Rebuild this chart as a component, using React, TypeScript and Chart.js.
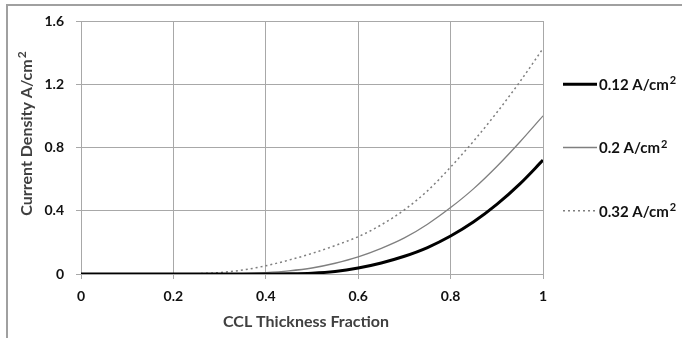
import React, { useEffect, useRef } from "react";
import { Chart, registerables } from "chart.js";

Chart.register(...registerables);

const xValues = [0, 0.05, 0.1, 0.15, 0.2, 0.25, 0.3, 0.35, 0.4, 0.45, 0.5, 0.55, 0.6, 0.65, 0.7, 0.75, 0.8, 0.85, 0.9, 0.95, 1];
const series012 = [0, 0, 0, 0, 0, 0, 0, 0, 0, 0.001, 0.005, 0.016, 0.038, 0.07, 0.112, 0.167, 0.24, 0.33, 0.44, 0.57, 0.72];
const series020 = [0, 0, 0, 0, 0, 0, 0.001, 0.003, 0.009, 0.02, 0.038, 0.068, 0.108, 0.162, 0.228, 0.315, 0.42, 0.54, 0.68, 0.835, 1.0];
const series032 = [0, 0, 0, 0, 0, 0.002, 0.009, 0.025, 0.052, 0.088, 0.13, 0.18, 0.236, 0.311, 0.406, 0.526, 0.676, 0.841, 1.021, 1.216, 1.426];
const seriesLabels = ["0.12 A/cm²", "0.2 A/cm²", "0.32 A/cm²"];
const xTitle = "CCL Thickness Fraction";
const yTitle = "Current Density A/cm²";

const FONT = "Lato, 'Open Sans', sans-serif";
const GRID = "#a8a8a8";

const toPoints = (ys: number[]) => ys.map((y, i) => ({ x: xValues[i], y }));

// draws text where a trailing "²" is rendered as a raised, smaller "2"
function drawSupText(ctx: any, text: string, x: number, y: number, size: number, align: "left" | "center") {
  const hasSup = text.endsWith("²");
  const base = hasSup ? text.slice(0, -1) : text;
  ctx.font = `bold ${size}px ${FONT}`;
  const wBase = ctx.measureText(base).width;
  const supSize = Math.round(size * 0.72);
  ctx.font = `bold ${supSize}px ${FONT}`;
  const wSup = hasSup ? ctx.measureText("2").width + 1 : 0;
  const total = wBase + wSup;
  const start = align === "center" ? x - total / 2 : x;
  ctx.textAlign = "left";
  ctx.textBaseline = "middle";
  ctx.font = `bold ${size}px ${FONT}`;
  ctx.fillText(base, start, y);
  if (hasSup) {
    ctx.font = `bold ${supSize}px ${FONT}`;
    ctx.fillText("2", start + wBase + 1, y - size * 0.3);
  }
}

const overlay = {
  id: "overlay",
  afterDraw(chart: any) {
    const { ctx, chartArea, scales } = chart;
    ctx.save();
    // axis titles
    ctx.fillStyle = "#404040";
    ctx.font = `bold 16px ${FONT}`;
    ctx.textAlign = "center";
    ctx.textBaseline = "middle";
    ctx.fillText(xTitle, (chartArea.left + chartArea.right) / 2 - 6, 322);
    ctx.save();
    ctx.translate(27, (chartArea.top + chartArea.bottom) / 2 - 14);
    ctx.rotate(-Math.PI / 2);
    drawSupText(ctx, yTitle, 0, 0, 16, "center");
    ctx.restore();
    // legend
    const ys = [1.2, 0.8, 0.4];
    chart.data.datasets.forEach((ds: any, i: number) => {
      const y = scales.y.getPixelForValue(ys[i]);
      const x0 = chartArea.right + 20;
      const x1 = x0 + 34;
      ctx.save();
      ctx.strokeStyle = ds.borderColor;
      ctx.lineWidth = ds.borderWidth;
      ctx.setLineDash(ds.borderDash || []);
      ctx.beginPath();
      ctx.moveTo(x0, y);
      ctx.lineTo(x1, y);
      ctx.stroke();
      ctx.restore();
      ctx.fillStyle = "#111";
      drawSupText(ctx, ds.label, x1 + 2, y + 1, 15, "left");
    });
    ctx.restore();
  },
};

export default function App() {
  const ref = useRef<HTMLCanvasElement>(null);
  useEffect(() => {
    if (!ref.current) return;
    const tickFont = { family: FONT, size: 14, weight: "bold" };
    const chart = new Chart(ref.current, {
      type: "line",
      data: {
        datasets: [
          {
            label: seriesLabels[0],
            data: toPoints(series012),
            borderColor: "#000000",
            borderWidth: 3,
            pointRadius: 0,
            cubicInterpolationMode: "monotone",
          },
          {
            label: seriesLabels[1],
            data: toPoints(series020),
            borderColor: "#7f7f7f",
            borderWidth: 1.3,
            pointRadius: 0,
            cubicInterpolationMode: "monotone",
          },
          {
            label: seriesLabels[2],
            data: toPoints(series032),
            borderColor: "#7f7f7f",
            borderWidth: 1.5,
            borderDash: [2, 3],
            pointRadius: 0,
            cubicInterpolationMode: "monotone",
          },
        ],
      },
      options: {
        animation: false,
        responsive: false,
        events: [],
        layout: { padding: { left: 0, top: 21, right: 139, bottom: 0 } },
        plugins: { legend: { display: false }, tooltip: { enabled: false } },
        scales: {
          x: {
            type: "linear",
            min: 0,
            max: 1,
            ticks: {
              stepSize: 0.2,
              padding: 9,
              color: "#111",
              font: tickFont,
              callback: (v: any) => String(Number(Number(v).toFixed(1))),
            },
            grid: { color: GRID, tickLength: 5, drawTicks: true },
            border: { color: GRID },
            afterFit: (s: any) => { s.height = 64; },
          },
          y: {
            min: 0,
            max: 1.6,
            ticks: {
              stepSize: 0.4,
              padding: 12,
              color: "#111",
              font: tickFont,
              callback: (v: any) => String(Number(Number(v).toFixed(1))),
            },
            grid: { color: GRID, tickLength: 5, drawTicks: true },
            border: { color: GRID },
            afterFit: (s: any) => { s.width = 81; },
          },
        },
      },
      plugins: [overlay],
    } as any);
    return () => chart.destroy();
  }, []);
  return (
    <div style={{ position: "fixed", left: 0, top: 0, width: 682, height: 338, background: "#fff" }}>
      <canvas ref={ref} width={682} height={338} style={{ position: "absolute", left: 0, top: 0 }} />
      <div
        style={{
          position: "absolute",
          left: 6,
          top: 4,
          width: 676,
          height: 334,
          borderTop: "2px solid #a0a0a0",
          borderLeft: "2px solid #a0a0a0",
          boxSizing: "border-box",
          pointerEvents: "none",
        }}
      />
    </div>
  );
}
